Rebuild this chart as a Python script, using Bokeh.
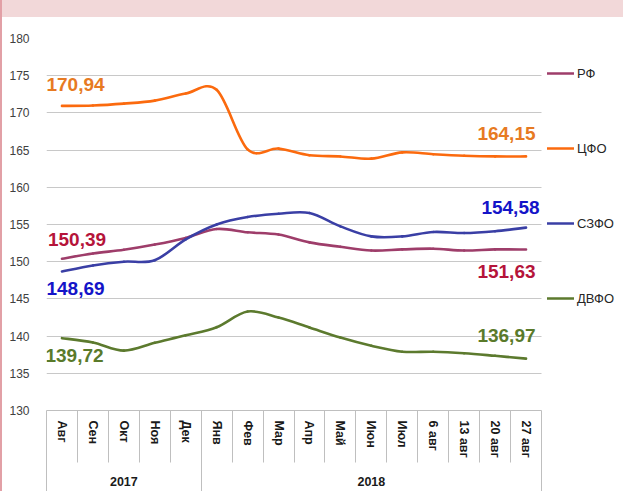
from bokeh.plotting import figure
from bokeh.models import (LinearAxis, FixedTicker, Range1d, Legend, LegendItem,
                          ColumnDataSource)
from bokeh.core.properties import value
from bokeh.embed import file_html
from bokeh.resources import INLINE

# ---------------- data ----------------
months = ["Авг", "Сен", "Окт", "Ноя", "Дек", "Янв", "Фев", "Мар", "Апр", "Май",
          "Июн", "Июл", "6 авг", "13 авг", "20 авг", "27 авг"]
years = ["2017", "2018"]
year_spans = [5, 11]

rf   = [150.39, 151.10, 151.60, 152.30, 153.20, 154.40, 153.95, 153.65, 152.60, 152.00,
        151.50, 151.65, 151.75, 151.50, 151.65, 151.63]
cfo  = [170.94, 171.00, 171.25, 171.65, 172.60, 173.10, 165.10, 165.20, 164.30, 164.15,
        163.85, 164.70, 164.45, 164.25, 164.15, 164.15]
szfo = [148.69, 149.50, 150.00, 150.20, 153.00, 155.00, 156.00, 156.45, 156.55, 154.75,
        153.40, 153.40, 154.00, 153.85, 154.10, 154.58]
dvfo = [139.72, 139.15, 138.05, 139.10, 140.10, 141.20, 143.30, 142.50, 141.15, 139.80,
        138.70, 137.90, 137.90, 137.70, 137.35, 136.97]

names = ["РФ", "ЦФО", "СЗФО", "ДВФО"]
y_ticks = [130, 135, 140, 145, 150, 155, 160, 165, 170, 175, 180]

# ---------------- style / layout ----------------
series = [rf, cfo, szfo, dvfo]
line_colors = ["#9e3d6a", "#fb6a0e", "#3a3fa5", "#5c7a2e"]
label_colors = ["#b5143a", "#e77a22", "#1414c8", "#5a7a2a"]
# (first dx, first dy, last dx, last dy) in screen pixels, dy negative = up
label_offsets = [(-14, -19, 9.5, 22), (-15.5, -21, 9.5, -23),
                 (-15.5, 17, 13.5, -20), (-16.5, 17, 9.5, -23)]
grid_col = "#c8c8c8"
sep_col = "#bfbfbf"

W, H = 623, 491
frame_left, cat_right = 46, 541      # pixel extent of the category area
n = len(months)
xs = list(range(n))
px_per_cat = (cat_right - frame_left) / n
x_end = -0.5 + (W - frame_left) / px_per_cat   # frame extends under the legend

p = figure(width=W, height=H,
           x_range=Range1d(-0.5, x_end), y_range=Range1d(130, 180),
           output_backend="svg", toolbar_location=None,
           min_border_left=frame_left, min_border_right=0, min_border_top=38,
           min_border_bottom=81,
           background_fill_color="white", border_fill_alpha=0,
           outline_line_color=None)

# page decoration behind the transparent border: pink band on top, strip on the left
p.styles = {
    "background-color": "white",
    "background-image": "linear-gradient(#f2d8d9, #f2d8d9), linear-gradient(#e2a0a6, #e2a0a6)",
    "background-size": "621px 17px, 2px 100%",
    "background-position": "2px 0px, 0px 0px",
    "background-repeat": "no-repeat",
}

# y axis & grid
p.yaxis.ticker = FixedTicker(ticks=y_ticks)
p.yaxis.axis_line_color = None
p.yaxis.major_tick_line_color = None
p.yaxis.minor_tick_line_color = None
p.yaxis.major_label_standoff = 11
p.yaxis.major_label_text_font = "Liberation Sans"
p.yaxis.major_label_text_font_size = "12px"
p.yaxis.major_label_text_color = "#404040"
p.ygrid.ticker = FixedTicker(ticks=y_ticks)
p.ygrid.grid_line_color = grid_col
try:
    p.ygrid.cross_bounds = (-0.5, n - 0.5)
except Exception:
    pass
p.xgrid.grid_line_color = None

# month axis (category labels; separators as minor ticks)
sep_len = 52
xa = p.xaxis[0]
xa.bounds = (-0.5, n - 0.5)
xa.ticker = FixedTicker(ticks=xs, minor_ticks=[i - 0.5 for i in range(n + 1)])
xa.major_label_overrides = {i: m for i, m in enumerate(months)}
xa.major_label_orientation = "vertical"
xa.major_tick_out = 0
xa.major_tick_in = 0
xa.minor_tick_in = 0
xa.minor_tick_out = sep_len
xa.minor_tick_line_color = sep_col
xa.axis_line_color = sep_col
xa.major_label_standoff = 10 - sep_len
xa.major_label_text_font = "Liberation Sans"
xa.major_label_text_font_style = "bold"
xa.major_label_text_font_size = "12.5px"
xa.major_label_text_color = "#1a1a1a"

# year axis (group labels; year boundaries as long minor ticks)
year_centers = []
year_bounds = [-0.5]
start = 0
for span in year_spans:
    year_centers.append(start + (span - 1) / 2)
    start += span
    year_bounds.append(start - 0.5)
ya = LinearAxis(ticker=FixedTicker(ticks=year_centers, minor_ticks=year_bounds),
                major_label_overrides={c: y for c, y in zip(year_centers, years)},
                bounds=(-0.5, n - 0.5))
ya.axis_line_color = None
ya.major_tick_out = 0
ya.major_tick_in = 0
ya.minor_tick_in = 0
ya.minor_tick_out = 34
ya.minor_tick_line_color = sep_col
ya.major_label_standoff = 16 - 34
ya.major_label_text_font = "Liberation Sans"
ya.major_label_text_font_style = "bold"
ya.major_label_text_font_size = "12.5px"
ya.major_label_text_color = "#1a1a1a"
p.add_layout(ya, "below")


def bezier_source(vals):
    d = {k: [] for k in ["x0", "y0", "x1", "y1", "cx0", "cy0", "cx1", "cy1"]}
    m = len(vals)
    for i in range(m - 1):
        ip, inx = max(i - 1, 0), min(i + 2, m - 1)
        d["x0"].append(xs[i]); d["y0"].append(vals[i])
        d["x1"].append(xs[i + 1]); d["y1"].append(vals[i + 1])
        d["cx0"].append(xs[i] + (xs[i + 1] - xs[ip]) / 6)
        d["cy0"].append(vals[i] + (vals[i + 1] - vals[ip]) / 6)
        d["cx1"].append(xs[i + 1] - (xs[inx] - xs[i]) / 6)
        d["cy1"].append(vals[i + 1] - (vals[inx] - vals[i]) / 6)
    return ColumnDataSource(d)


def fmt(v):
    return f"{v:.2f}".replace(".", ",")


items = []
for vals, name, lc, tc, off in zip(series, names, line_colors, label_colors, label_offsets):
    r = p.bezier(x0="x0", y0="y0", x1="x1", y1="y1", cx0="cx0", cy0="cy0",
                 cx1="cx1", cy1="cy1", source=bezier_source(vals),
                 line_color=lc, line_width=2.6, line_cap="round")
    items.append(LegendItem(label=name, renderers=[r]))
    lsrc = ColumnDataSource(dict(x=[xs[0], xs[-1]], y=[vals[0], vals[-1]],
                                 text=[fmt(vals[0]), fmt(vals[-1])],
                                 xo=[off[0], off[2]], yo=[off[1], off[3]],
                                 al=["left", "right"]))
    p.text(x="x", y="y", text="text", x_offset="xo", y_offset="yo", text_align="al",
           text_baseline="middle", text_font=value("Liberation Sans"),
           text_font_style="bold", text_font_size="19px", text_color=tc, source=lsrc)

legend = Legend(items=items, location=(501, 81), orientation="vertical",
                spacing=13, glyph_width=27, glyph_height=62, label_height=62,
                label_standoff=3, padding=4, margin=0,
                background_fill_alpha=0, border_line_color=None,
                label_text_font="Liberation Sans", label_text_font_size="13px",
                label_text_color="#262626")
p.add_layout(legend)

open("out.html", "w").write(file_html(p, INLINE))
